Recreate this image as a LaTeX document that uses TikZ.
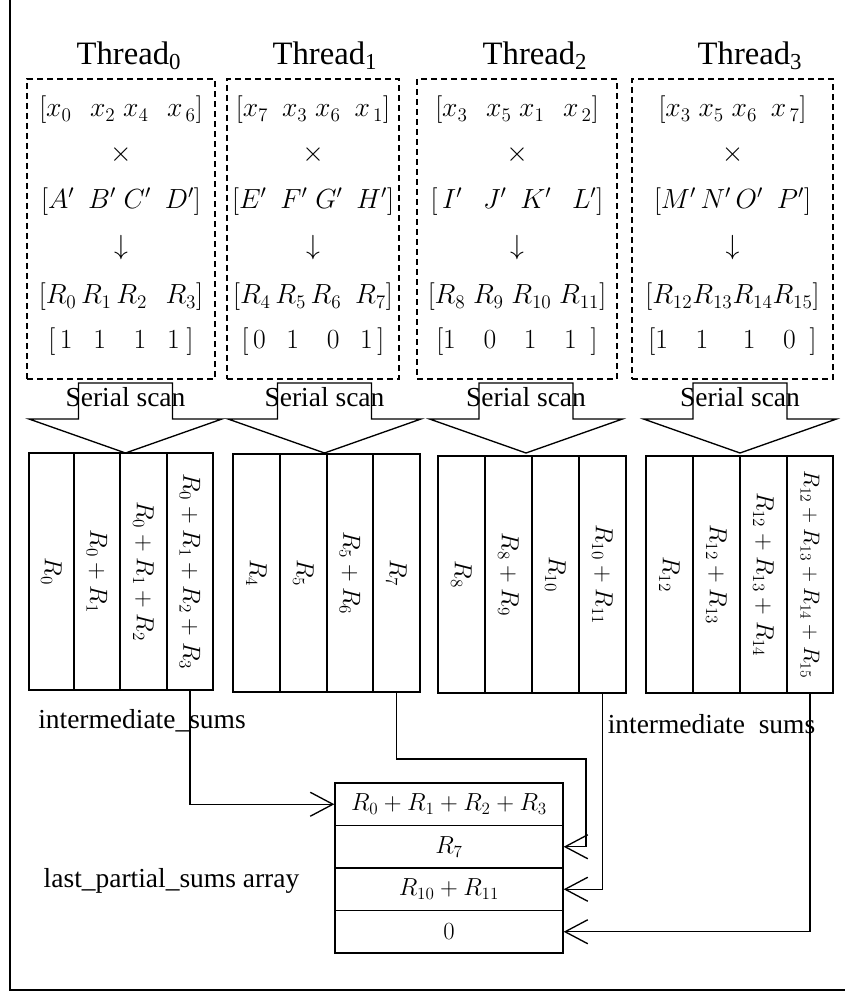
\documentclass[tikz,border=0pt]{standalone}
\usepackage{fontspec}
\setmainfont{Liberation Serif}
\usetikzlibrary{arrows.meta}
\newcommand\mycol[7][1.07]{%
  \node[colbox, minimum width={(#4-#3)*0.75pt}, minimum height={(#6-#5)*0.75pt}] (#2) at ({(#3+#4)/2},{(#5+#6)/2}) {\rotatebox{-90}{\scalebox{#1}{#7}}};}
\newcommand\scanarrow[2]{%
  \draw[solid line] ({#1-47},383) -- ({#1+47},383) -- ({#1+47},419) -- ({#1+96.5},419) -- (#1,453) -- ({#1-96.5},419) -- ({#1-47},419) -- cycle;
  \node[lbl, anchor=base] (#2) at (#1,406) {Serial scan};}
\begin{document}
\begin{tikzpicture}[x=0.75pt,y=-0.75pt,
  lbl/.style={font=\fontsize{20.6pt}{24pt}\selectfont, inner sep=0pt},
  thr/.style={font=\fontsize{24.5pt}{29pt}\selectfont, inner sep=0pt, anchor=base},
  mrow/.style={font=\fontsize{20.74pt}{24pt}\selectfont, inner sep=0pt},
  dbox/.style={draw, dash pattern=on 4.5pt off 3pt, line width=0.8pt, inner sep=0pt},
  solid line/.style={line width=1pt},
  colbox/.style={draw, line width=1pt, inner sep=0pt, font=\fontsize{17.28pt}{21pt}\selectfont},
  cell/.style={draw, line width=1pt, minimum width=228*0.75pt, minimum height=42.5*0.75pt, inner sep=0pt, font=\fontsize{17.28pt}{21pt}\selectfont},
  conn/.style={line width=1pt, -{Straight Barb[length=17pt,width=18pt,line width=1pt]}}
]
\useasboundingbox (0,0) rectangle (845,998);
% frame
\draw[line width=1.2pt] (10,0) -- (10,990) -- (845,990);

% thread labels
\node[thr] (t0) at (129,65) {Thread\textsubscript{0}};
\node[thr] (t1) at (325,65) {Thread\textsubscript{1}};
\node[thr] (t2) at (535,65) {Thread\textsubscript{2}};
\node[thr] (t3) at (750,65) {Thread\textsubscript{3}};

% dashed boxes
\node[dbox, minimum width=188*0.75pt, minimum height=300*0.75pt] (b0) at (121,229) {};
\node[dbox, minimum width=172*0.75pt, minimum height=300*0.75pt] (b1) at (313,229) {};
\node[dbox, minimum width=200*0.75pt, minimum height=300*0.75pt] (b2) at (517,229) {};
\node[dbox, minimum width=201*0.75pt, minimum height=300*0.75pt] (b3) at (732.5,229) {};

% box 0
\node[mrow] (r01) at (121,110) {$[x_0\ \ \,x_2\;x_4\ \ \,x_{\,6}]$};
\node[mrow] (r02) at (121,155) {$\times$};
\node[mrow] (r03) at (121,202) {$[A'\ \ B'\;C'\ \ D']$};
\node[mrow] (r04) at (121,248) {$\downarrow$};
\node[mrow] (r05) at (121,297) {$[R_0\,R_1\,R_2\ \ \,R_3]$};
\node[mrow] (r06) at (121,342) {$[\,1\ \ \ 1\ \ \ \ 1\ \ \ 1\ ]$};
% box 1
\node[mrow] (r11) at (313,110) {$[x_7\ \ x_3\;x_6\ \ x_{\,1}]$};
\node[mrow] (r12) at (313,155) {$\times$};
\node[mrow] (r13) at (313,202) {$[E'\ \ F'\;G'\ \ H']$};
\node[mrow] (r14) at (313,248) {$\downarrow$};
\node[mrow] (r15) at (313,297) {$[R_4\,R_5\,R_6\ \ R_7]$};
\node[mrow] (r16) at (313,342) {$[\,0\ \ \ 1\ \ \ \ 0\ \ \ 1\,]$};
% box 2
\node[mrow] (r21) at (517,110) {$[x_3\ \ \,x_5\;x_1\ \ \,x_{\,2}]$};
\node[mrow] (r22) at (517,155) {$\times$};
\node[mrow] (r23) at (517,202) {$[\,I'\ \ \ J'\ \ K'\ \ \ L']$};
\node[mrow] (r24) at (517,248) {$\downarrow$};
\node[mrow] (r25) at (517,297) {$[R_8\;R_9\;R_{10}\;R_{11}]$};
\node[mrow] (r26) at (517,342) {$[1\ \ \ \ 0\ \ \ \ 1\ \ \ \ 1\ \ ]$};
% box 3
\node[mrow] (r31) at (732.5,110) {$[x_3\;x_5\;x_6\ \ x_{\,7}]$};
\node[mrow] (r32) at (732.5,155) {$\times$};
\node[mrow] (r33) at (732.5,202) {$[M'\,N'\,O'\ \ P']$};
\node[mrow] (r34) at (732.5,248) {$\downarrow$};
\node[mrow] (r35) at (732.5,297) {$[R_{12}R_{13}R_{14}R_{15}]$};
\node[mrow] (r36) at (732.5,342) {$[1\ \ \ \ 1\ \ \ \ \ 1\ \ \ \ 0\ \ ]$};

% serial scan arrows
\scanarrow{125.5}{s0}
\scanarrow{324.5}{s1}
\scanarrow{526}{s2}
\scanarrow{740}{s3}

% columns
\mycol{g0c1}{29}{74}{453}{690}{$R_0$}
\mycol{g0c2}{74}{120}{453}{690}{$R_0+R_1$}
\mycol{g0c3}{120}{167}{453}{690}{$R_0+R_1+R_2$}
\mycol{g0c4}{167}{213}{453}{690}{$R_0+R_1+R_2+R_3$}
\mycol{g1c1}{233}{280}{454}{692}{$R_4$}
\mycol{g1c2}{280}{327}{454}{692}{$R_5$}
\mycol{g1c3}{327}{373}{454}{692}{$R_5+R_6$}
\mycol{g1c4}{373}{420}{454}{692}{$R_7$}
\mycol{g2c1}{438}{485}{456}{693}{$R_8$}
\mycol{g2c2}{485}{532}{456}{693}{$R_8+R_9$}
\mycol{g2c3}{532}{579}{456}{693}{$R_{10}$}
\mycol{g2c4}{579}{626}{456}{693}{$R_{10}+R_{11}$}
\mycol{g3c1}{646}{693}{456}{693}{$R_{12}$}
\mycol{g3c2}{693}{740}{456}{693}{$R_{12}+R_{13}$}
\mycol{g3c3}{740}{787}{456}{693}{$R_{12}+R_{13}+R_{14}$}
\mycol[0.97]{g3c4}{787}{833}{456}{693}{$R_{12}+R_{13}+R_{14}+R_{15}$}

% labels
\node[lbl, anchor=base] (is0) at (142,728) {intermediate\_sums};
\node[lbl, anchor=base] (is1) at (711.5,733) {intermediate\hspace{0.5em}sums};
\node[lbl, anchor=base] (lps) at (171.5,887) {last\_partial\_sums array};

% last partial sums array
\node[cell] (a1) at (449,804.25) {\scalebox{1.07}{$R_0+R_1+R_2+R_3$}};
\node[cell] (a2) at (449,846.75) {\scalebox{1.07}{$R_7$}};
\node[cell] (a3) at (449,889.25) {\scalebox{1.07}{$R_{10}+R_{11}$}};
\node[cell] (a4) at (449,931.75) {\scalebox{1.07}{$0$}};

% connectors
\coordinate (k1) at (586,759);
\draw[conn] (g0c4.south) |- (a1.west);
\draw[conn] (g1c4.south) |- (k1) |- (a2.east);
\draw[conn] (g2c4.south) |- (a3.east);
\draw[conn] (g3c4.south) |- (a4.east);
\end{tikzpicture}
\end{document}
